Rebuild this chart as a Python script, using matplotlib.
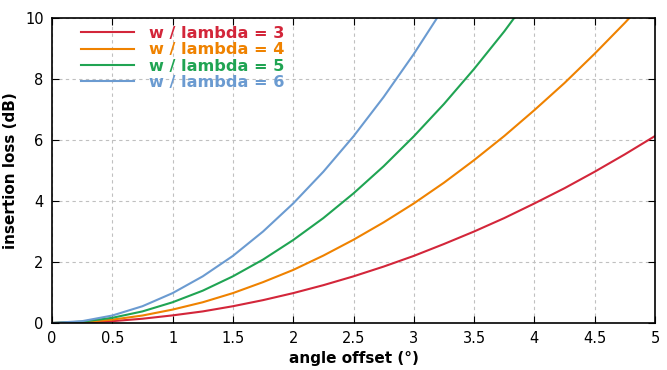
import matplotlib
matplotlib.use("Agg")
import matplotlib.pyplot as plt

angle = [0, 0.25, 0.5, 0.75, 1, 1.25, 1.5, 1.75, 2, 2.25, 2.5, 2.75, 3, 3.25,
         3.5, 3.75, 4, 4.25, 4.5, 4.75, 5]
loss_3 = [0, 0.015, 0.06, 0.14, 0.25, 0.38, 0.55, 0.75, 0.98, 1.24, 1.53, 1.85,
          2.2, 2.59, 3.0, 3.44, 3.92, 4.42, 4.96, 5.53, 6.13]
loss_4 = [0, 0.027, 0.11, 0.245, 0.44, 0.68, 0.98, 1.34, 1.74, 2.21, 2.73, 3.3,
          3.92, 4.6, 5.34, 6.13, 6.98, 7.87, 8.83, 9.84, 10.9]
loss_5 = [0, 0.043, 0.17, 0.38, 0.68, 1.06, 1.53, 2.08, 2.72, 3.44, 4.25, 5.14,
          6.12, 7.18, 8.33, 9.56, 10.9]
loss_6 = [0, 0.061, 0.245, 0.55, 0.98, 1.53, 2.2, 3.0, 3.92, 4.96, 6.12, 7.41,
          8.82, 10.35]
labels = ["w / lambda = 3", "w / lambda = 4", "w / lambda = 5", "w / lambda = 6"]
colors = ["#d3263a", "#ef8200", "#20a453", "#6b9bd1"]

fig = plt.figure(figsize=(6.67, 3.7), dpi=100)
ax = fig.add_axes([52/667, 1-323/370, (655-52)/667, (323-18)/370])

series = [loss_3, loss_4, loss_5, loss_6]
for ys, lab, c in zip(series, labels, colors):
    ax.plot(angle[:len(ys)], ys, color=c, lw=1.5, label=lab)

ax.set_xlim(0, 5)
ax.set_ylim(0, 10)
ax.set_xticks([0, 0.5, 1, 1.5, 2, 2.5, 3, 3.5, 4, 4.5, 5])
ax.set_xticklabels(["0", "0.5", "1", "1.5", "2", "2.5", "3", "3.5", "4", "4.5", "5"])
ax.set_yticks([0, 2, 4, 6, 8, 10])
ax.grid(True, color="#c0c0c0", linestyle=(0, (3, 3)), lw=0.8)
ax.tick_params(direction="in", top=True, right=True, length=5, labelsize=10.5, pad=6)
for s in ax.spines.values():
    s.set_linewidth(1.2)
ax.set_xlabel("angle offset (°)", fontsize=11, fontweight="bold", labelpad=3)
ax.set_ylabel("insertion loss (dB)", fontsize=11, fontweight="bold", labelpad=5)

leg = ax.legend(loc="upper left", frameon=False,
                prop={"weight": "bold", "size": 11.6}, handlelength=3.3,
                handletextpad=0.9, labelspacing=0.08, borderaxespad=0.1,
                bbox_to_anchor=(0.035, 1.0))
for t, c in zip(leg.get_texts(), colors):
    t.set_color(c)

fig.savefig("out.png", dpi=100)
